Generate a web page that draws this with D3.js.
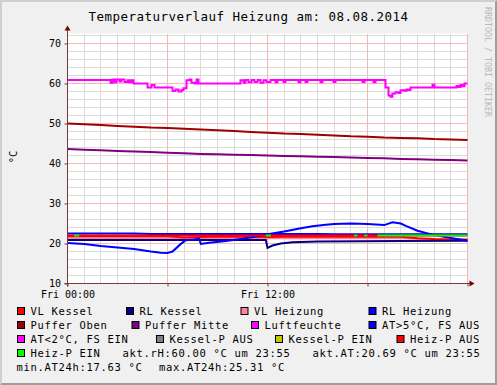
<!DOCTYPE html>
<html>
<head>
<meta charset="utf-8">
<script src="https://cdn.jsdelivr.net/npm/d3@7"></script>
<style>
  body { margin: 0; background: #f0f0f0; }
  text { font-family: "DejaVu Sans Mono", monospace; }
</style>
</head>
<body>
<div id="chart"></div>
<script>

// hourly samples 0..24
const hours = d3.range(0, 25);

const vlKessel    = [21.8, 21.8, 21.8, 21.8, 21.8, 21.8, 21.8, 21.5, 21.6, 21.7, 21.7, 21.7, 21.6,
                     21.7, 21.7, 21.7, 21.7, 21.7, 21.7, 21.7, 21.7, 21.3, 21.1, 21.0, 21.0];
const vlHeizung   = [21.3, 21.3, 21.3, 21.3, 21.3, 21.3, 21.3, 21.2, 21.2, 21.3, 21.3, 21.3, 21.3,
                     21.3, 21.3, 21.3, 21.3, 21.3, 21.3, 21.3, 21.3, 21.2, 21.0, 20.9, 20.9];
const rlHeizung   = [22.5, 22.5, 22.5, 22.5, 22.5, 22.4, 22.4, 22.4, 22.4, 22.4, 22.4, 22.4, 22.4,
                     22.4, 22.4, 22.4, 22.3, 22.3, 22.3, 22.3, 22.3, 22.3, 22.3, 22.3, 22.3];
const pufferOben  = [50.0, 49.8, 49.6, 49.4, 49.2, 49.0, 48.9, 48.7, 48.5, 48.3, 48.1, 47.9, 47.7,
                     47.5, 47.4, 47.2, 47.0, 46.8, 46.7, 46.5, 46.4, 46.3, 46.1, 46.0, 45.9];
const pufferMitte = [43.6, 43.45, 43.3, 43.15, 43.0, 42.85, 42.7, 42.55, 42.4, 42.3, 42.2, 42.1, 42.0,
                     41.9, 41.8, 41.7, 41.6, 41.5, 41.4, 41.3, 41.15, 41.05, 40.95, 40.85, 40.75];

// [hour, value]
const rlKessel = [[0, 20.9], [6, 20.9], [11.9, 20.9], [12, 18.9], [12.3, 19.5], [12.8, 20.0],
                  [13.5, 20.3], [15, 20.5], [20, 20.6], [24, 20.7]];

const aussenTemp = [[0, 20.1], [1, 19.9], [2, 19.4], [3, 19.0], [4, 18.6], [5, 18.0], [5.6, 17.7],
                    [6, 17.63], [6.3, 18.0], [6.8, 19.9], [7.1, 20.8], [7.6, 21.0], [7.9, 21.2],
                    [8.0, 19.9], [8.5, 20.2], [9.5, 20.6], [10.5, 21.2], [11.5, 21.9], [12, 22.3],
                    [13, 23.0], [14, 23.8], [14.7, 24.3], [15.5, 24.7], [16, 24.9], [17, 25.0],
                    [18, 24.9], [19, 24.6], [19.5, 25.31], [20, 25.0], [20.3, 24.4], [21, 23.2],
                    [22, 22.1], [23, 21.4], [24, 20.69]];

const luftfeuchte = [[0, 60.9], [2.46, 60.9], [2.58, 60.2], [2.70, 61.0], [2.82, 60.3], [2.94, 61.0],
                     [3.12, 60.5], [3.24, 61.0], [3.42, 60.4], [3.60, 60.8], [3.72, 60.3], [3.84, 60.8],
                     [3.96, 60.0], [4.80, 59.0], [5.04, 59.6], [5.22, 59.0], [6.30, 58.1], [6.48, 58.5],
                     [6.66, 58.0], [6.84, 58.4], [6.96, 58.8], [7.14, 60.8], [7.32, 61.0], [7.44, 60.2],
                     [7.62, 60.0], [7.74, 61.0], [7.86, 60.0], [10.26, 60.0], [10.38, 60.8], [10.56, 60.2],
                     [10.68, 60.9], [10.86, 60.3], [11.04, 60.9], [11.22, 60.4], [11.40, 60.9], [11.58, 60.2],
                     [11.76, 60.8], [11.94, 60.4], [12.18, 60.9], [12.48, 60.3], [12.60, 60.9], [12.96, 60.4],
                     [13.08, 60.9], [13.86, 60.3], [13.98, 60.9], [14.28, 60.4], [14.40, 60.9], [15.18, 60.3],
                     [15.30, 60.9], [15.96, 60.4], [16.08, 60.9], [17.70, 60.4], [17.82, 60.9], [18.36, 60.3],
                     [18.48, 60.9], [19.08, 59.0], [19.26, 57.0], [19.38, 56.7], [19.50, 57.5], [19.68, 57.8],
                     [19.86, 57.6], [19.98, 58.3], [20.22, 58.2], [20.34, 58.5], [20.46, 58.4], [20.58, 59.0],
                     [21.90, 59.7], [22.02, 59.0], [23.34, 59.4], [23.46, 59.1], [23.58, 59.6], [23.70, 59.3],
                     [23.82, 60.0], [24.0, 60.0]];

// heating pump state line
const heizPLevel = 22.0;
const heizPEin = [[0.4, 0.7], [11.9, 12.2], [17.2, 17.4], [17.8, 18.0], [18.6, 24]];

const title = "Temperaturverlauf Heizung am: 08.08.2014";
const yTicks = [10, 20, 30, 40, 50, 60, 70];
const xTickHours = [0, 6, 12, 18, 24];
const xTickLabels = ["Fri 00:00", "", "Fri 12:00", "", ""];

const legendNames = ["VL Kessel", "RL Kessel", "VL Heizung", "RL Heizung",
                     "Puffer Oben", "Puffer Mitte", "Luftfeuchte", "AT>5°C, FS AUS",
                     "AT<2°C, FS EIN", "Kessel-P AUS", "Kessel-P EIN", "Heiz-P AUS",
                     "Heiz-P EIN"];
const legendColors = ["#ff0000", "#000080", "#ff80a0", "#0000ff",
                      "#a00000", "#800080", "#ff00ff", "#0000ff",
                      "#ff00ff", "#808080", "#c8c800", "#ff0000",
                      "#00ff00"];
const infoTexts = ["akt.rH:60.00 °C um 23:55", "akt.AT:20.69 °C um 23:55",
                   "min.AT24h:17.63 °C", "max.AT24h:25.31 °C"];

// layout
const W = 497, H = 385;
const plot = { left: 67.5, right: 467.5, top: 33.5, bottom: 283.5 };

const svg = d3.select("#chart")
    .append("svg")
    .attr("width", W)
    .attr("height", H);

svg.append("rect").attr("width", W).attr("height", H).attr("fill", "#f0f0f0");
// frame shading
svg.append("path").attr("d", `M0,${H} L0,0 L${W},0 L${W - 2},2 L2,2 L2,${H - 2} Z`).attr("fill", "#cfcfcf");
svg.append("path").attr("d", `M${W},0 L${W},${H} L0,${H} L2,${H - 2} L${W - 2},${H - 2} L${W - 2},2 Z`).attr("fill", "#9e9e9e");

const x = d3.scaleLinear().domain([0, 24]).range([plot.left, plot.right]);
const y = d3.scaleLinear().domain([10, 72.5]).range([plot.bottom, plot.top]);

svg.append("rect")
    .attr("x", plot.left).attr("y", plot.top)
    .attr("width", plot.right - plot.left).attr("height", plot.bottom - plot.top)
    .attr("fill", "#ffffff");

// minor grid
const grid = svg.append("g").attr("shape-rendering", "crispEdges");
grid.selectAll(".vmin").data(d3.range(0, 25)).enter().append("line")
    .attr("x1", d => x(d)).attr("x2", d => x(d))
    .attr("y1", plot.top).attr("y2", plot.bottom)
    .attr("stroke", "#dadada");
grid.selectAll(".hmin").data(d3.range(12, 73, 2)).enter().append("line")
    .attr("x1", plot.left).attr("x2", plot.right)
    .attr("y1", d => y(d)).attr("y2", d => y(d))
    .attr("stroke", "#dadada");
// major grid
grid.selectAll(".vmaj").data(xTickHours).enter().append("line")
    .attr("x1", d => x(d)).attr("x2", d => x(d))
    .attr("y1", plot.top).attr("y2", plot.bottom)
    .attr("stroke", "#f3b8b8");
grid.selectAll(".hmaj").data(yTicks).enter().append("line")
    .attr("x1", plot.left).attr("x2", plot.right)
    .attr("y1", d => y(d)).attr("y2", d => y(d))
    .attr("stroke", "#f3b8b8");

// series
const hourLine = d3.line().x((d, i) => x(hours[i])).y(d => y(d));
const pairLine = d3.line().x(d => x(d[0])).y(d => y(d[1]));
const stepLine = d3.line().x(d => x(d[0])).y(d => y(d[1])).curve(d3.curveStepAfter);

function draw(path, color) {
    svg.append("path")
        .attr("d", path)
        .attr("fill", "none")
        .attr("stroke", color)
        .attr("stroke-width", 2);
}

draw(hourLine(vlHeizung), legendColors[2]);
draw(hourLine(vlKessel), legendColors[0]);
draw(pairLine(rlKessel), legendColors[1]);
draw(hourLine(rlHeizung), legendColors[3]);
draw(hourLine(pufferOben), legendColors[4]);
draw(hourLine(pufferMitte), legendColors[5]);
draw(stepLine(luftfeuchte), legendColors[6]);
draw(pairLine(aussenTemp), legendColors[7]);
draw(pairLine([[0, heizPLevel], [24, heizPLevel]]), legendColors[11]);
heizPEin.forEach(seg => draw(pairLine(seg.map(h => [h, heizPLevel])), legendColors[12]));

// axes
const axisColor = "#7a3a3a";
const yAxis = svg.append("g")
    .attr("transform", `translate(${plot.left},0)`)
    .call(d3.axisLeft(y).tickValues(yTicks).tickSize(3).tickPadding(3.5));
const xAxis = svg.append("g")
    .attr("transform", `translate(0,${plot.bottom})`)
    .call(d3.axisBottom(x).tickValues(xTickHours).tickSize(3).tickPadding(4)
        .tickFormat((d, i) => xTickLabels[i]));
[yAxis, xAxis].forEach(a => {
    a.select(".domain").remove();
    a.selectAll("line").attr("stroke", axisColor);
    a.selectAll("text")
        .attr("font-family", "DejaVu Sans Mono")
        .attr("font-size", 10)
        .attr("fill", "#000");
});

svg.append("line")
    .attr("x1", plot.left).attr("x2", plot.left)
    .attr("y1", plot.bottom + 3).attr("y2", plot.top - 4)
    .attr("stroke", axisColor);
svg.append("line")
    .attr("x1", plot.left - 3).attr("x2", plot.right + 3)
    .attr("y1", plot.bottom).attr("y2", plot.bottom)
    .attr("stroke", axisColor);
svg.append("path")
    .attr("d", `M${plot.left - 3},${plot.top - 3} L${plot.left + 3},${plot.top - 3} L${plot.left},${plot.top - 8} Z`)
    .attr("fill", "#7f0000");
svg.append("path")
    .attr("d", `M${plot.right + 2},${plot.bottom - 3} L${plot.right + 2},${plot.bottom + 3} L${plot.right + 7},${plot.bottom} Z`)
    .attr("fill", "#7f0000");

// title and labels
svg.append("text")
    .attr("x", W / 2).attr("y", 20.5)
    .attr("text-anchor", "middle")
    .attr("font-size", 12.5)
    .attr("letter-spacing", 0.47)
    .text(title);

svg.append("text")
    .attr("transform", "translate(17,157) rotate(-90)")
    .attr("text-anchor", "middle")
    .attr("font-size", 10.5)
    .text("°C");

svg.append("text")
    .attr("transform", "translate(484.5,7) rotate(90)")
    .attr("font-size", 8.3)
    .attr("fill", "#b8b8b8")
    .text("RRDTOOL / TOBI OETIKER");

// legend
const rowY = [311, 325, 339, 353, 367.5];
const swatchX = [17, 126, 240.5, 368.5, 17, 131.5, 251, 368.5, 17, 156, 275, 396.5, 17];
const legend = svg.append("g");
legendNames.forEach((name, i) => {
    const ry = rowY[Math.floor(i / 4)];
    legend.append("rect")
        .attr("x", swatchX[i] + 0.5).attr("y", ry - 3.5)
        .attr("width", 7).attr("height", 7)
        .attr("fill", legendColors[i])
        .attr("stroke", "#000")
        .attr("stroke-width", 1);
    legend.append("text")
        .attr("x", swatchX[i] + 13.5).attr("y", ry + 3.8)
        .attr("font-size", 10.5)
        .attr("letter-spacing", 0.68)
        .text(name);
});
const infoPos = [[122.5, rowY[3]], [312.5, rowY[3]], [16.5, rowY[4]], [159, rowY[4]]];
infoTexts.forEach((t, i) => {
    legend.append("text")
        .attr("x", infoPos[i][0]).attr("y", infoPos[i][1] + 3.8)
        .attr("font-size", 10.5)
        .attr("letter-spacing", 0.68)
        .text(t);
});

</script>
</body>
</html>
